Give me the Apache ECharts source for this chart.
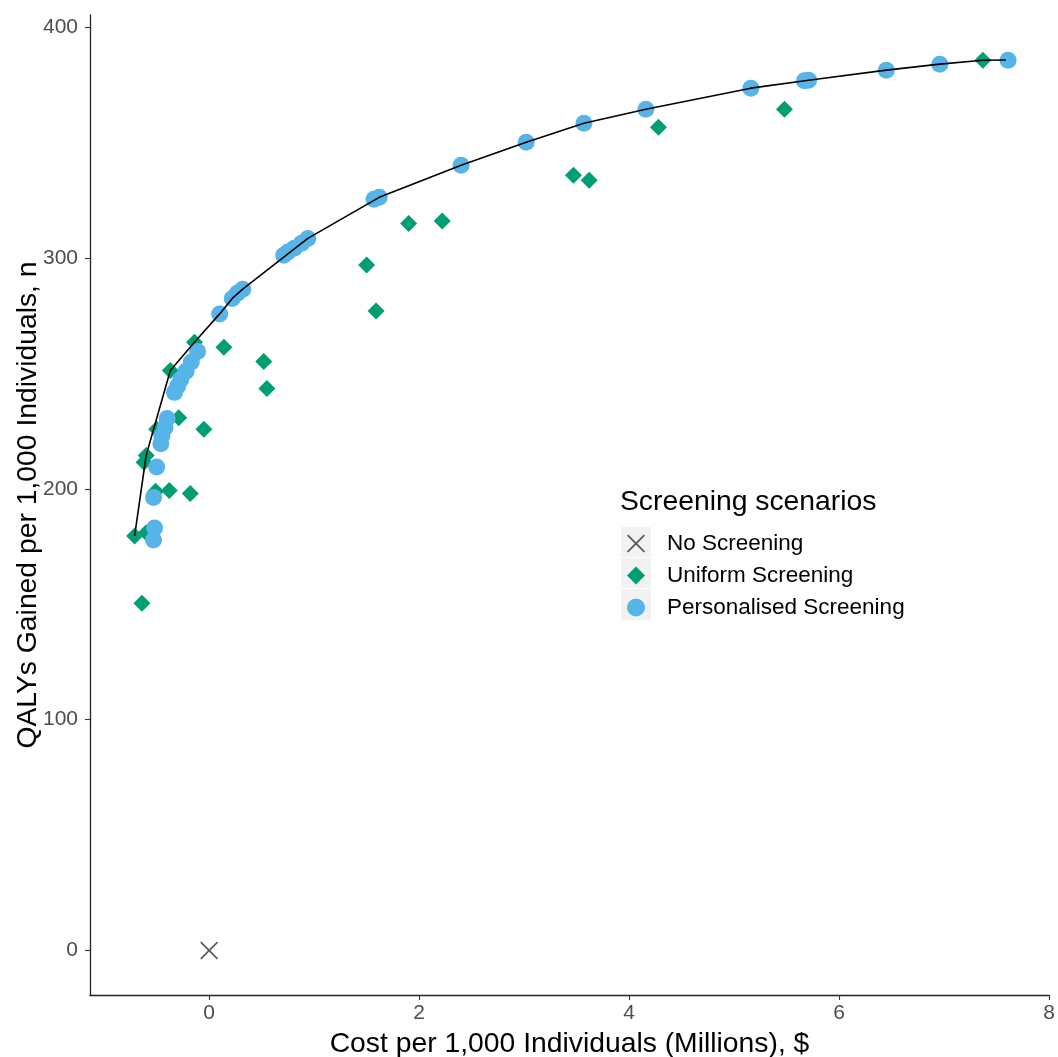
<!DOCTYPE html>
<html>
<head>
<meta charset="utf-8">
<script src="https://cdn.jsdelivr.net/npm/echarts@6/dist/echarts.min.js"></script>
<style>
html,body{margin:0;padding:0;background:#fff;}
#chart{width:1058px;height:1057px;}
</style>
</head>
<body>
<div id="chart"></div>
<script>
// ---- data ----
const noScreenX = [0];
const noScreenY = [0];

const uniformX = [7.37, 5.48, 4.28, 3.47, 3.62, 2.22, 1.90, 1.50, 1.59, 0.52, 0.55, 0.14, -0.14, -0.05, -0.29, -0.37, -0.18, -0.38, -0.51, -0.50, -0.60, -0.62, -0.71, -0.60, -0.64];
const uniformY = [385.7, 364.5, 356.7, 335.9, 333.7, 316.0, 315.0, 297.0, 277.0, 255.2, 243.5, 261.3, 263.5, 225.8, 230.8, 251.3, 198.0, 199.3, 199.0, 225.8, 214.5, 211.5, 179.6, 181.0, 150.4];

const personalisedX = [7.61, 6.96, 6.45, 5.71, 5.67, 5.16, 4.16, 3.57, 3.02, 2.40, 1.62, 1.57, 0.94, 0.88, 0.81, 0.75, 0.71, 0.32, 0.27, 0.22, 0.10, -0.11, -0.17, -0.22, -0.27, -0.30, -0.33, -0.40, -0.42, -0.45, -0.46, -0.50, -0.53, -0.52, -0.53];
const personalisedY = [385.7, 384.0, 381.4, 377.0, 376.8, 373.6, 364.5, 358.4, 350.2, 340.2, 326.3, 325.5, 308.5, 306.4, 304.2, 302.6, 301.2, 286.5, 284.8, 282.5, 275.8, 259.5, 255.0, 251.0, 247.5, 244.5, 241.8, 230.5, 226.5, 223.0, 219.5, 209.5, 196.3, 183.0, 177.8];

const frontierX = [-0.71, -0.60, -0.37, -0.14, 0.10, 0.22, 0.32, 0.94, 1.62, 2.40, 3.02, 3.57, 4.16, 5.16, 5.71, 6.45, 6.96, 7.37, 7.59];
const frontierY = [179.6, 214.5, 251.3, 263.5, 275.8, 282.5, 286.5, 308.5, 326.3, 340.2, 350.2, 358.4, 364.5, 373.6, 377.0, 381.4, 384.0, 385.7, 385.8];

const xTicks = [0, 2, 4, 6, 8];
const yTicks = [0, 100, 200, 300, 400];

const seriesNames = ['No Screening', 'Uniform Screening', 'Personalised Screening'];
const xTitle = 'Cost per 1,000 Individuals (Millions), $';
const yTitle = 'QALYs Gained per 1,000 Individuals, n';
const legendTitle = 'Screening scenarios';

// ---- helpers ----
const zip = (xs, ys) => xs.map((x, i) => [x, ys[i]]);
const crossPath = 'path://M0,0.7L0.7,0L5,4.3L9.3,0L10,0.7L5.7,5L10,9.3L9.3,10L5,5.7L0.7,10L0,9.3L4.3,5Z';
const FONT = '"Liberation Sans", Arial, sans-serif';

const chart = echarts.init(document.getElementById('chart'), null, {renderer: 'canvas'});

const option = {
  backgroundColor: '#ffffff',
  animation: false,
  textStyle: {fontFamily: FONT},
  grid: {left: 90, right: 9, top: 15, bottom: 62, containLabel: false, outerBoundsMode: 'none'},
  title: {
    text: legendTitle,
    left: 615, top: 483,
    textStyle: {fontFamily: FONT, fontSize: 28.3, fontWeight: 'normal', color: '#000'}
  },
  legend: {
    orient: 'vertical',
    left: 627, top: 532,
    padding: 0,
    itemWidth: 18, itemHeight: 18,
    itemGap: 9,
    data: [
      {name: seriesNames[0], icon: crossPath, itemStyle: {color: '#333333'}},
      {name: seriesNames[1], icon: 'diamond'},
      {name: seriesNames[2], icon: 'circle'}
    ],
    textStyle: {fontFamily: FONT, fontSize: 22.5, color: '#000', padding: [0, 0, 0, 17]}
  },
  graphic: [
    {type: 'rect', left: 621, top: 527, shape: {width: 30, height: 30}, style: {fill: '#f2f2f2'}, z: -1, silent: true},
    {type: 'rect', left: 621, top: 558, shape: {width: 30, height: 30}, style: {fill: '#f2f2f2'}, z: -1, silent: true},
    {type: 'rect', left: 621, top: 589, shape: {width: 30, height: 31}, style: {fill: '#f2f2f2'}, z: -1, silent: true}
  ],
  xAxis: {
    type: 'value',
    min: -1.135, max: 8.0,
    name: xTitle,
    nameLocation: 'middle',
    nameGap: 35,
    nameMoveOverlap: false,
    nameTextStyle: {fontFamily: FONT, fontSize: 28.3, color: '#000'},
    splitLine: {show: false},
    axisLine: {show: true, onZero: false, lineStyle: {color: '#222', width: 1.3}},
    axisTick: {show: true, customValues: xTicks, length: 5, lineStyle: {color: '#333', width: 1.1}},
    axisLabel: {customValues: xTicks, margin: 8, fontFamily: FONT, fontSize: 21, color: '#4d4d4d'}
  },
  yAxis: {
    type: 'value',
    min: -19.3, max: 405.3,
    name: yTitle,
    nameLocation: 'middle',
    nameGap: 48,
    nameMoveOverlap: false,
    nameRotate: 90,
    nameTextStyle: {fontFamily: FONT, fontSize: 28.3, color: '#000'},
    splitLine: {show: false},
    axisLine: {show: true, onZero: false, lineStyle: {color: '#222', width: 1.3}},
    axisTick: {show: true, customValues: yTicks, length: 5, lineStyle: {color: '#333', width: 1.1}},
    axisLabel: {customValues: yTicks, margin: 12, fontFamily: FONT, fontSize: 21, color: '#4d4d4d'}
  },
  series: [
    {
      name: seriesNames[0], type: 'scatter',
      data: zip(noScreenX, noScreenY),
      symbol: crossPath, symbolSize: 18,
      itemStyle: {color: '#333333'}
    },
    {
      name: seriesNames[1], type: 'scatter',
      data: zip(uniformX, uniformY),
      symbol: 'diamond', symbolSize: 17,
      itemStyle: {color: '#009E73', opacity: 1}
    },
    {
      name: seriesNames[2], type: 'scatter',
      data: zip(personalisedX, personalisedY),
      symbol: 'circle', symbolSize: 17,
      itemStyle: {color: '#56B4E9', opacity: 1}
    },
    {
      name: 'Frontier', type: 'line',
      data: zip(frontierX, frontierY),
      showSymbol: false, symbol: 'none',
      lineStyle: {color: '#000', width: 1.6},
      z: 5, silent: true
    }
  ]
};
chart.setOption(option);
</script>
</body>
</html>
